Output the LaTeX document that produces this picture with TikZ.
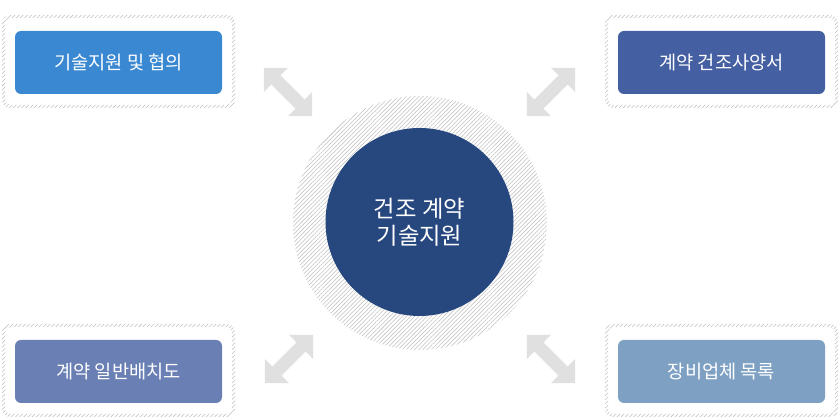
\documentclass[tikz,border=0pt]{standalone}
\usepackage{fontspec}
\setmainfont{Noto Sans CJK KR}
\usetikzlibrary{patterns.meta}
\definecolor{cTL}{HTML}{3A88D1}
\definecolor{cTR}{HTML}{445FA2}
\definecolor{cBL}{HTML}{6A7FB4}
\definecolor{cBR}{HTML}{7EA1C3}
\definecolor{cCenter}{HTML}{27477F}
\definecolor{cArrow}{HTML}{E0E0E0}
\definecolor{cHatch}{HTML}{BEBEBE}
\tikzset{
  boxnode/.style={rounded corners=4.5pt, minimum width=155.25pt, minimum height=47.25pt,
    inner sep=0pt, text=white, font=\fontsize{14pt}{17pt}\selectfont},
  hatchfill/.style={pattern={Lines[angle=45,distance=2.2pt,line width=0.4pt]}, pattern color=cHatch},
  arrowfill/.style={fill=cArrow},
  centernode/.style={circle, fill=cCenter, minimum size=141pt, inner sep=0pt, text=white,
    align=center, font=\fontsize{17.5pt}{20.5pt}\selectfont}
}
\begin{document}
\begin{tikzpicture}[x=0.75pt,y=0.75pt]
\useasboundingbox (0,0) rectangle (840,420);
% hatched frames
\foreach \cx/\cy in {118.5/358.5, 721.5/358.5, 118.5/49.5, 721.5/49.5}{
  \fill[hatchfill, even odd rule]
    [rounded corners=6pt] (\cx-116.5,\cy-46.5) rectangle (\cx+116.5,\cy+46.5)
    [rounded corners=4pt] (\cx-113.5,\cy-43.5) rectangle (\cx+113.5,\cy+43.5);
}
% center ring
\fill[hatchfill] (420,197) circle (127);
\node[centernode] (center) at (419.5,198) {건조 계약\\기술지원};
% boxes
\node[boxnode, fill=cTL] (tl) at (118.5,357.5) {기술지원 및 협의};
\node[boxnode, fill=cTR] (tr) at (721.5,357.5) {계약 건조사양서};
\node[boxnode, fill=cBL] (bl) at (118.5,48.5) {계약 일반배치도};
\node[boxnode, fill=cBR] (br) at (721.5,48.5) {장비업체 목록};
% double block arrows
\foreach \ax/\ay/\ang in {288/328/-45, 551/328/45, 289/61/45, 551/61/-45}{
  \begin{scope}[shift={(\ax,\ay)}, rotate=\ang]
    \fill[arrowfill] (-34,0) -- (-17,17) -- (-17,6.5) -- (17,6.5) -- (17,17) -- (34,0)
      -- (17,-17) -- (17,-6.5) -- (-17,-6.5) -- (-17,-17) -- cycle;
  \end{scope}
}
\end{tikzpicture}
\end{document}
